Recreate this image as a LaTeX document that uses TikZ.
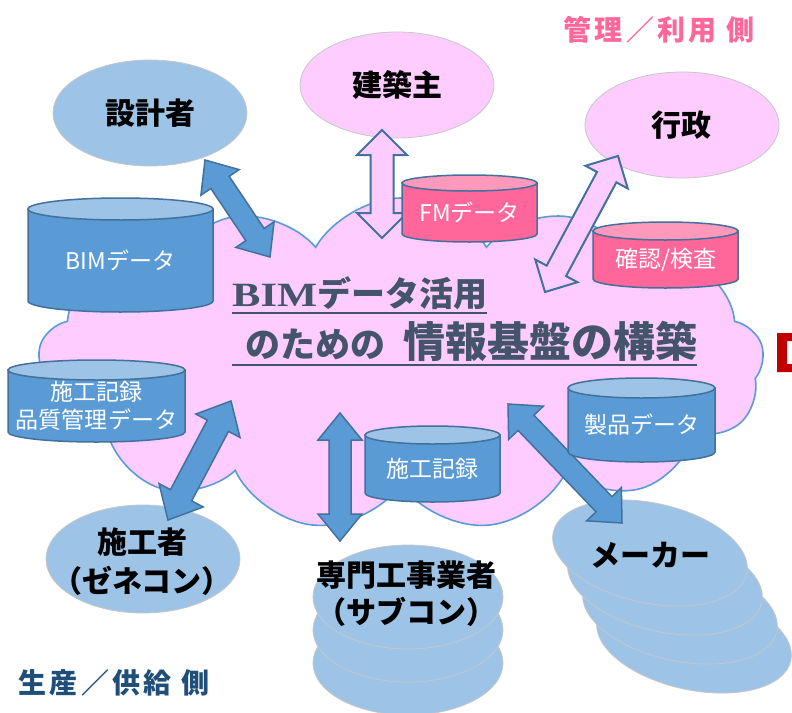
\documentclass[tikz,border=0pt]{standalone}
\usepackage{fontspec}
\usepackage{graphicx}
\usetikzlibrary{shapes.geometric,shapes.symbols,calc}
\newfontfamily\jp{Noto Sans CJK JP}
\newfontfamily\jpsp{Noto Sans CJK JP}[LetterSpace=12]
\newfontfamily\serifb{Liberation Serif}
\definecolor{cloudpink}{HTML}{FFCCFF}
\definecolor{cloudline}{HTML}{5B9BD5}
\definecolor{blueell}{HTML}{9DC3E6}
\definecolor{pinkell}{HTML}{FFCCFF}
\definecolor{cylblue}{HTML}{5B9BD5}
\definecolor{cylbluetop}{HTML}{9DC3E6}
\definecolor{cylpink}{HTML}{FF6699}
\definecolor{cylpinktop}{HTML}{FF99BB}
\definecolor{edgeblue}{HTML}{41719C}
\definecolor{titlegray}{HTML}{44546A}
\definecolor{labelpink}{HTML}{FF6699}
\definecolor{labelblue}{HTML}{1F4E79}
\definecolor{brickred}{HTML}{C00000}
\tikzset{
  person/.style={ellipse, inner sep=0pt, minimum width=194, minimum height=106,
    draw=gray!45, line width=0.8pt},
  bluep/.style={person, fill=blueell},
  pinkp/.style={person, fill=pinkell},
  ptext/.style={font=\jp\bfseries\fontsize{30}{38}\selectfont, align=center, text=black, inner sep=0pt},
  cyltext/.style={font=\jp\fontsize{23}{28}\selectfont, text=white, align=center, inner sep=0pt},
  bluebody/.style={fill=cylblue, draw=edgeblue, line width=1.5pt},
  bluetop/.style={fill=cylbluetop, draw=edgeblue, line width=1.5pt},
  pinkbody/.style={fill=cylpink, draw=edgeblue, line width=1.5pt},
  pinktop/.style={fill=cylpinktop, draw=edgeblue, line width=1.5pt},
  arrowblue/.style={fill=cylblue, draw=edgeblue, line width=1.5pt, line join=miter},
  arrowpink/.style={fill=pinkell, draw=edgeblue, line width=2pt, line join=miter},
  titletext/.style={font=\jp\bfseries\fontsize{34}{40}\selectfont, text=titlegray, inner sep=0pt, anchor=base west},
  titleline/.style={draw=titlegray, line width=2pt},
  sidelabel/.style={font=\jpsp\bfseries\fontsize{28}{32}\selectfont, inner sep=0pt}
}
% block double arrow: style, from, to, head length, head half width, shaft half width
\newcommand\dbarrow[6]{%
  \coordinate (ta) at ($(#2)!#4!(#3)$);
  \coordinate (tb) at ($(#3)!#4!(#2)$);
  \draw[#1] (#2) -- ($(ta)!#5!90:(#3)$) -- ($(ta)!#6!90:(#3)$)
    -- ($(tb)!#6!-90:(#2)$) -- ($(tb)!#5!-90:(#2)$) -- (#3)
    -- ($(tb)!#5!90:(#2)$) -- ($(tb)!#6!90:(#2)$)
    -- ($(ta)!#6!-90:(#3)$) -- ($(ta)!#5!-90:(#3)$) -- cycle;}
% cylinder: name, left, right, top, bottom, cap radius, colour prefix, text
\newcommand\dbcyl[8]{%
  \pgfmathsetmacro\cxx{(#2+#3)/2}\pgfmathsetmacro\rxx{(#3-#2)/2}%
  \pgfmathsetmacro\ctt{#4+#6}\pgfmathsetmacro\cbb{#5-#6}%
  \draw[#7body] (#2,\ctt) -- (#2,\cbb) arc[start angle=180, end angle=0, x radius=\rxx, y radius=#6] -- (#3,\ctt) -- cycle;
  \draw[#7top] (\cxx,\ctt) ellipse[x radius=\rxx, y radius=#6];
  \node[cyltext] (#1) at ({\cxx},{(\ctt+#5)/2}) {#8};}
\begin{document}
\begin{tikzpicture}[x=1pt, y=-1pt]
\useasboundingbox (0,0) rectangle (792,712);
\fill[white] (0,0) rectangle (792,712);
% cloud
\node[cloud, cloud puffs=13, cloud puff arc=120, aspect=2.2, minimum width=726, minimum height=332,
  inner sep=0pt, draw=cloudline, fill=cloudpink, line width=1.6pt] (cloud) at (401,364) {};
% red mark at right edge
\fill[brickred, even odd rule] (777,333) rectangle (800,372) (787,341) rectangle (800,364);
% people
\node[bluep] (sekkei) at (150,113) {};
\node[ptext] (sekkeit) at (150,113) {設計者};
\node[pinkp] (kenchiku) at (397,85) {};
\node[ptext] (kenchikut) at (397,85) {建築主};
\node[pinkp] (gyosei) at (682,125) {};
\node[ptext] (gyoseit) at (681,125) {行政};
\node[bluep, minimum height=108] (seko) at (143,559) {};
\node[ptext, font=\jp\bfseries\fontsize{30}{39}\selectfont] (sekot) at (142,562) {施工者\\（ゼネコン）};
\node[bluep, minimum width=190, minimum height=104] (sub3) at (408,663) {};
\node[bluep, minimum width=190, minimum height=104] (sub2) at (408,630) {};
\node[bluep, minimum width=190, minimum height=104] (sub1) at (408,597) {};
\node[ptext, font=\jp\bfseries\fontsize{30}{37}\selectfont] (subt) at (406,594) {専門工事業者\\（サブコン）};
\node[bluep, minimum width=198, minimum height=100, rotate=-12] (mk4) at (694,640) {};
\node[bluep, minimum width=198, minimum height=100, rotate=-12] (mk3) at (680,611) {};
\node[bluep, minimum width=198, minimum height=100, rotate=-12] (mk2) at (665,582) {};
\node[bluep, minimum width=198, minimum height=100, rotate=-12] (mk1) at (650,553) {};
\node[ptext] (mkt) at (650,555) {メーカー};
% arrow ends
\coordinate (a1s) at (205,160); \coordinate (a1e) at (270,257);
\coordinate (a2s) at (382,130); \coordinate (a2e) at (382,238);
\coordinate (a3s) at (618,156); \coordinate (a3e) at (545,292);
\coordinate (a4s) at (231,401); \coordinate (a4e) at (168,520);
\coordinate (a5s) at (340,413); \coordinate (a5e) at (340,541);
\coordinate (a6s) at (508,404); \coordinate (a6e) at (622,523);
\dbarrow{arrowblue}{a1s}{a1e}{27pt}{23pt}{11pt}
\dbarrow{arrowpink}{a2s}{a2e}{25pt}{25pt}{11.5pt}
\dbarrow{arrowpink}{a3s}{a3e}{24pt}{24pt}{11pt}
\dbarrow{arrowblue}{a4s}{a4e}{28pt}{25pt}{12pt}
\dbarrow{arrowblue}{a5s}{a5e}{27pt}{22pt}{11pt}
\dbarrow{arrowblue}{a6s}{a6e}{26pt}{24pt}{11pt}
% cylinders
\dbcyl{bim}{28}{213}{198}{312}{11}{blue}{BIMデータ}
\dbcyl{hinshitsu}{8}{185}{360}{442}{10}{blue}{施工記録\\品質管理データ}
\dbcyl{fm}{402}{537}{175}{242}{8}{pink}{FMデータ}
\dbcyl{kakunin}{593}{738}{222}{288}{9}{pink}{確認/検査}
\dbcyl{sekokiroku}{365}{500}{426}{502}{9}{blue}{施工記録}
\dbcyl{seihin}{568}{715}{378}{462}{10}{blue}{製品データ}
% title in the cloud
\node[titletext] (t1) at (232,306) {\scalebox{1.25}[1]{\serifb\bfseries BIM}データ活用};
\draw[titleline] ([yshift=-7pt]t1.base west) -- ([yshift=-7pt]t1.base east);
\node[titletext] (t2) at (232,357) {\hspace*{13pt}{\fontsize{35}{40}\selectfont のための}\hspace*{18pt}{\fontsize{42}{48}\selectfont 情報基盤の構築}};
\draw[titleline] ([yshift=-8pt]t2.base west) -- ([yshift=-8pt]t2.base east);
% side labels
\node[sidelabel, text=labelpink] (kanri) at (659,30) {管理／利用 側};
\node[sidelabel, text=labelblue] (seisan) at (114,683) {生産／供給 側};
\end{tikzpicture}
\end{document}
